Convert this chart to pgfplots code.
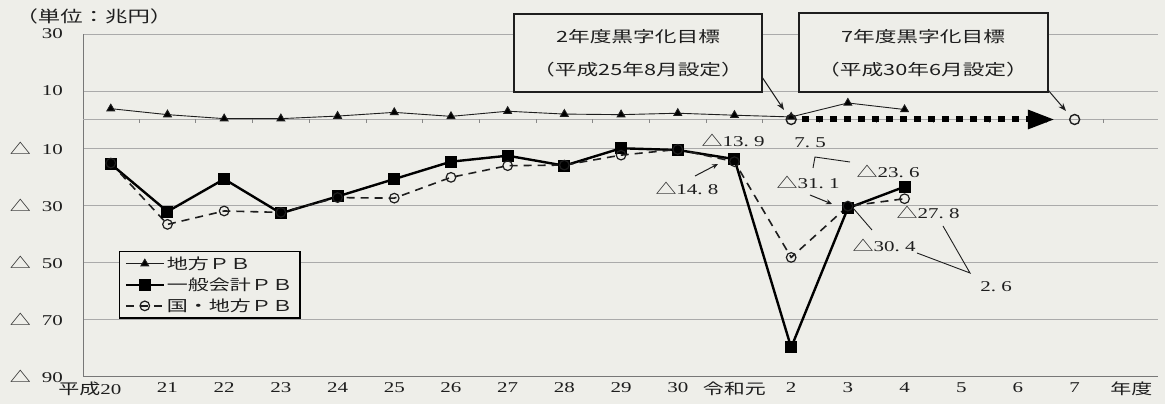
\documentclass[border=0pt]{standalone}
\usepackage{pgfplots}
\pgfplotsset{compat=1.18}
\usetikzlibrary{arrows.meta}
\usepackage{fontspec}
\setmainfont{Liberation Serif}[FakeStretch=1.4]
\newfontfamily\cjk{Noto Sans CJK JP}[FakeStretch=1.4]
\definecolor{bg}{RGB}{238,238,233}
\definecolor{ink}{RGB}{30,30,30}
\definecolor{gridc}{RGB}{170,170,170}
\newcommand\tri{{\cjk △}}
\newcommand\pd{.\hspace{0.35em}}
\newcommand\negl[1]{\makebox[53bp]{\tri\hfill #1}}

\begin{document}
\begin{tikzpicture}
\path[use as bounding box, fill=bg] (0,0) rectangle (1165bp,404bp);
\begin{axis}[
  at={(83bp,28bp)}, anchor=south west,
  scale only axis, width=1075bp, height=342bp,
  xmin=-0.49, xmax=18.47, ymin=-90, ymax=30,
  axis x line=bottom, axis y line=left,
  axis line style={-, gridc!70!black, line width=0.8bp},
  ytick={30,10,-10,-30,-50,-70,-90},
  yticklabels={30,10,\negl{10},\negl{30},\negl{50},\negl{70},\negl{90}},
  ymajorgrids, grid style={gridc, line width=0.7bp},
  extra y ticks={0}, extra y tick labels={},
  extra y tick style={grid=major},
  xtick={0,...,18},
  xticklabels={{\llap{\cjk 平成}20},21,22,23,24,25,26,27,28,29,30,{\cjk 令和元},2,3,4,5,6,7,{\cjk 年度}},
  major tick length=0pt,
  /pgf/number format/assume math mode=true,
  tick label style={font=\fontsize{15bp}{17bp}\selectfont, text=ink},
  yticklabel style={anchor=east, inner sep=0pt, xshift=-20bp},
  xticklabel style={anchor=north, inner sep=0pt, yshift=-6bp},
  clip=false,
  legend style={at={(0.0335,0.3655)}, anchor=north west, draw=black, line width=1.2bp,
    fill=bg, font=\cjk\fontsize{15bp}{18bp}\selectfont, text=ink,
    inner xsep=5bp, inner ysep=3bp, row sep=3bp, cells={anchor=west}},
  legend image code/.code={\draw[mark repeat=2,mark phase=2,#1] plot coordinates {(0bp,0bp) (19bp,0bp) (38bp,0bp)};},
]
\pgfplotsinvokeforeach{0.5,1.5,2.5,3.5,4.5,5.5,6.5,7.5,8.5,9.5,10.5,11.5,12.5,13.5,14.5,15.5,16.5,17.5}{
  \draw[gridc!80!black, line width=0.7bp] (axis cs:#1,0) -- ++(0pt,-4bp);
}
\addplot[ink, line width=0.9bp, mark=triangle*, mark size=4.5bp, mark options={solid, fill=black}]
  coordinates {(0,3.8)(1,1.7)(2,0.3)(3,0.3)(4,1.2)(5,2.5)(6,1.1)(7,2.9)(8,1.9)(9,1.7)(10,2.2)(11,1.5)(12,0.9)(13,5.8)(14,3.5)};
\addlegendentry{地方ＰＢ}
\addplot[black, line width=2.4bp, mark=square*, mark size=4.8bp, mark options={solid, fill=black}]
  coordinates {(0,-15.6)(1,-32.3)(2,-20.9)(3,-32.9)(4,-27.0)(5,-20.9)(6,-14.8)(7,-12.7)(8,-16.2)(9,-10.1)(10,-10.7)(11,-13.9)(12,-80.0)(13,-31.1)(14,-23.6)};
\addlegendentry{一般会計ＰＢ}
\addplot[ink, line width=1.6bp, dash pattern=on 8bp off 6bp, mark=o, mark size=4.8bp, mark options={solid, line width=1.2bp}]
  coordinates {(0,-15.3)(1,-36.8)(2,-32.1)(3,-32.6)(4,-27.4)(5,-27.6)(6,-20.3)(7,-16.2)(8,-16.0)(9,-12.5)(10,-10.5)(11,-14.8)(12,-48.4)(13,-30.4)(14,-27.8)};
\addlegendentry{国・地方ＰＢ}
\addplot[black, line width=6bp, dash pattern=on 7bp off 7bp, -{Triangle[length=27bp,width=18bp]}, forget plot]
  coordinates {(12.19,0) (16.65,0)};
\addplot[only marks, ink, mark=o, mark size=5bp, mark options={line width=1.4bp, fill=bg}, forget plot]
  coordinates {(12,0) (17,0)};
\end{axis}

\begin{scope}[shift={(0bp,404bp)}, x=1bp, y=-1bp]
  \node[anchor=west, text=ink, font=\cjk\fontsize{16bp}{18bp}\selectfont] at (12,16) {（単位：兆円）};
  % target boxes
  \draw[ink, line width=1.1bp, fill=bg] (514,14) rectangle (762,92);
  \node[text=ink, font=\cjk\fontsize{15.5bp}{17bp}\selectfont] at (638,37) {2年度黒字化目標};
  \node[text=ink, font=\cjk\fontsize{15.5bp}{17bp}\selectfont] at (638,70) {（平成25年8月設定）};
  \draw[ink, line width=1.1bp, fill=bg] (799,13) rectangle (1048,92);
  \node[text=ink, font=\cjk\fontsize{15.5bp}{17bp}\selectfont] at (923,37) {7年度黒字化目標};
  \node[text=ink, font=\cjk\fontsize{15.5bp}{17bp}\selectfont] at (923,70) {（平成30年6月設定）};
  \draw[ink, line width=1bp, -{Stealth[length=8bp,width=6bp]}] (762,77) -- (784,110);
  \draw[ink, line width=1bp, -{Stealth[length=8bp,width=6bp]}] (1048,90) -- (1066,111);
  % value annotations
  \begin{scope}[every node/.style={text=ink, font=\fontsize{15bp}{17bp}\selectfont, inner sep=0pt}]
    \node at (733,140) {\tri 13\pd 9};
    \node at (687,188) {\tri 14\pd 8};
    \draw[ink, line width=1bp, -{Stealth[length=6bp,width=5bp]}] (695,176) -- (718,164);
    \node at (810,143) {7\pd 5};
    \draw[ink, line width=0.9bp] (813,168) -- (815,157) -- (850,162);
    \node at (888,171) {\tri 23\pd 6};
    \node at (808,182) {\tri 31\pd 1};
    \draw[ink, line width=1bp, -{Stealth[length=6bp,width=5bp]}] (810,195) -- (832,204);
    \node at (884,245) {\tri 30\pd 4};
    \draw[ink, line width=0.9bp] (872,230) -- (853,208);
    \node at (928,212) {\tri 27\pd 8};
    \node at (996,287) {2\pd 6};
    \draw[ink, line width=0.9bp] (917,253) -- (970,273) -- (943,226);
  \end{scope}
\end{scope}
\end{tikzpicture}
\end{document}
